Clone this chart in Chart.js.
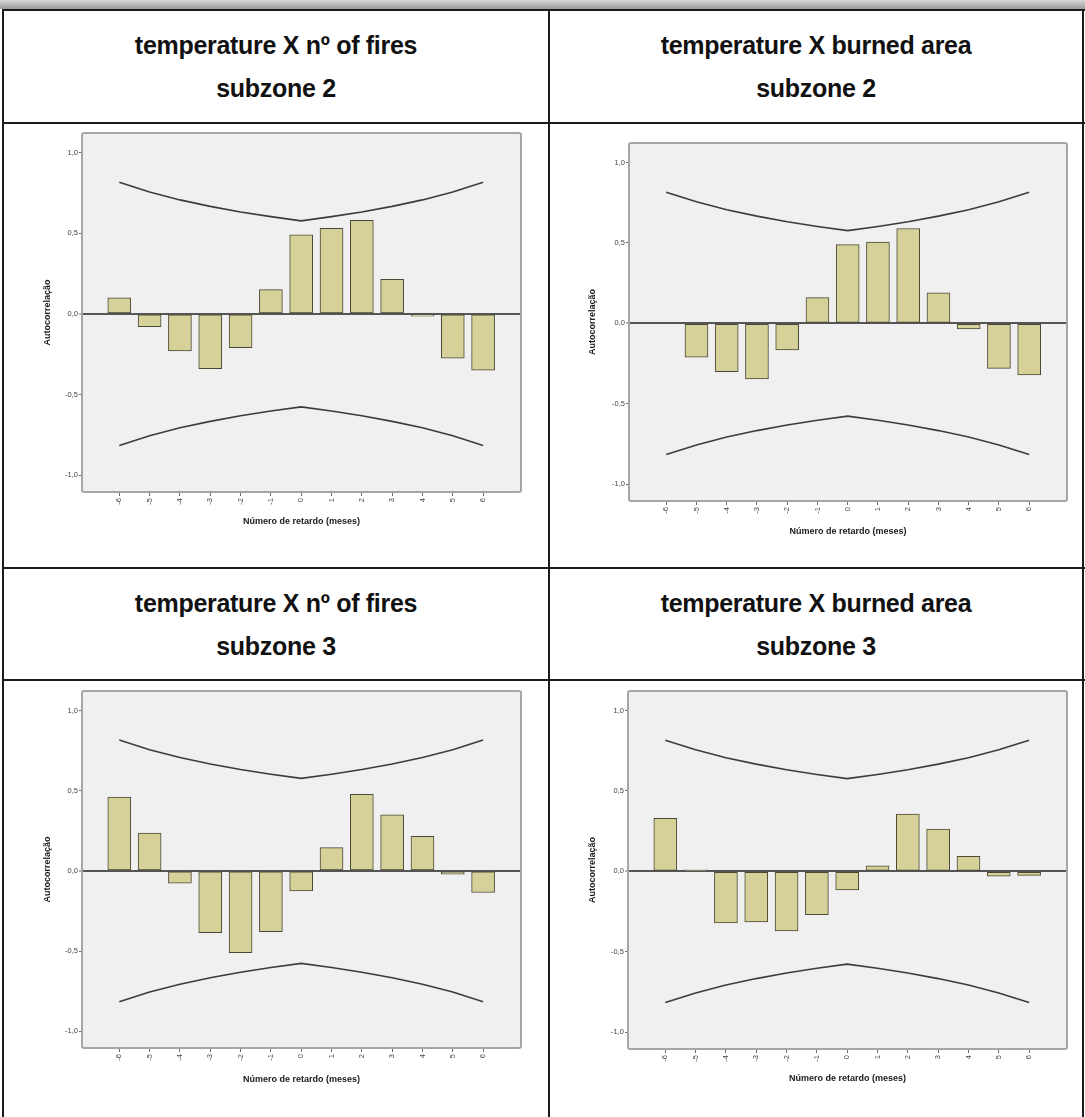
<!DOCTYPE html>
<html>
<head>
<meta charset="utf-8">
<script src="https://cdn.jsdelivr.net/npm/chart.js@4.4.1/dist/chart.umd.min.js"></script>
<style>
  html, body { margin: 0; padding: 0; background: #fff; }
  body { width: 1085px; height: 1117px; position: relative; overflow: hidden; font-family: "Liberation Sans", Arial, sans-serif; }
  .band { position: absolute; left: 0; top: 0; width: 1085px; height: 9px; background: linear-gradient(to bottom, #d8d8d8, #9a9a9a); }
  .hl { position: absolute; background: #1c1c1c; height: 2px; }
  .vl { position: absolute; background: #1c1c1c; width: 2px; }
  .head { position: absolute; text-align: center; font-weight: bold; font-size: 25px; line-height: 43px; color: #111; letter-spacing: -0.3px; }
  canvas { position: absolute; }
</style>
</head>
<body>
<div class="band"></div>
<div class="hl" style="left:2px; top:9px; width:1083px;"></div>
<div class="hl" style="left:2px; top:122px; width:1083px;"></div>
<div class="hl" style="left:2px; top:567px; width:1083px;"></div>
<div class="hl" style="left:2px; top:679px; width:1083px;"></div>
<div class="vl" style="left:2px; top:9px; height:1108px;"></div>
<div class="vl" style="left:548px; top:9px; height:1108px;"></div>
<div class="vl" style="left:1082px; top:9px; height:1108px;"></div>

<div class="head" style="left:4px; top:24px; width:544px;">temperature X nº of fires<br>subzone 2</div>
<div class="head" style="left:550px; top:24px; width:532px;">temperature X burned area<br>subzone 2</div>
<div class="head" style="left:4px; top:582px; width:544px;">temperature X nº of fires<br>subzone 3</div>
<div class="head" style="left:550px; top:582px; width:532px;">temperature X burned area<br>subzone 3</div>

<canvas id="c1" width="544" height="443" style="left:4px; top:124px;"></canvas>
<canvas id="c2" width="530" height="443" style="left:551px; top:124px;"></canvas>
<canvas id="c3" width="544" height="436" style="left:4px; top:681px;"></canvas>
<canvas id="c4" width="530" height="436" style="left:551px; top:681px;"></canvas>

<script>
// ---------- data ----------
const lags = [-6, -5, -4, -3, -2, -1, 0, 1, 2, 3, 4, 5, 6];
const xTickLabels = ['-6', '-5', '-4', '-3', '-2', '-1', '0', '1', '2', '3', '4', '5', '6'];
const yTickValues = [-1, -0.5, 0, 0.5, 1];
const yTickLabels = ['-1,0', '-0,5', '0,0', '0,5', '1,0'];

const firesSubzone2 = [0.10, -0.08, -0.23, -0.34, -0.21, 0.15, 0.49, 0.53, 0.58, 0.215, -0.015, -0.275, -0.35];
const areaSubzone2  = [0.00, -0.21, -0.30, -0.345, -0.165, 0.16, 0.49, 0.505, 0.59, 0.19, -0.035, -0.28, -0.32];
const firesSubzone3 = [0.46, 0.235, -0.077, -0.385, -0.51, -0.38, -0.125, 0.145, 0.477, 0.35, 0.215, -0.02, -0.135];
const areaSubzone3  = [0.33, 0.01, -0.32, -0.315, -0.37, -0.27, -0.115, 0.035, 0.357, 0.263, 0.093, -0.03, -0.025];

const upperLimit = [0.816, 0.756, 0.707, 0.667, 0.632, 0.603, 0.577, 0.603, 0.632, 0.667, 0.707, 0.756, 0.816];
const lowerLimit = [-0.816, -0.756, -0.707, -0.667, -0.632, -0.603, -0.577, -0.603, -0.632, -0.667, -0.707, -0.756, -0.816];

const yTitle = 'Autocorrelação';
const xTitle = 'Número de retardo (meses)';

// ---------- drawing ----------
const framePlugin = {
  id: 'frame',
  beforeDraw(chart) {
    const { ctx, chartArea: a } = chart;
    ctx.save();
    ctx.fillStyle = '#f0f0f0';
    ctx.fillRect(a.left, a.top, a.right - a.left, a.bottom - a.top);
    ctx.restore();
  },
  afterDraw(chart) {
    const { ctx, chartArea: a } = chart;
    ctx.save();
    ctx.strokeStyle = '#a6a6a6';
    ctx.lineWidth = 2;
    ctx.beginPath();
    if (ctx.roundRect) ctx.roundRect(a.left, a.top, a.right - a.left, a.bottom - a.top, 2);
    else ctx.rect(a.left, a.top, a.right - a.left, a.bottom - a.top);
    ctx.stroke();
    ctx.restore();
  }
};

function makeChart(id, values, box) {
  const canvas = document.getElementById(id);
  const W = canvas.width, H = canvas.height;
  const xAxisH = H - box.bottom;
  const lh = 9 * 1.2;
  new Chart(canvas, {
    type: 'bar',
    data: {
      datasets: [
        {
          type: 'line',
          data: lags.map((x, i) => ({ x, y: upperLimit[i] })),
          borderColor: '#3c3c3c', borderWidth: 1.6, pointRadius: 0, tension: 0, fill: false, order: 0
        },
        {
          type: 'line',
          data: lags.map((x, i) => ({ x, y: lowerLimit[i] })),
          borderColor: '#3c3c3c', borderWidth: 1.6, pointRadius: 0, tension: 0, fill: false, order: 0
        },
        {
          type: 'bar',
          data: lags.map((x, i) => ({ x, y: values[i] })),
          backgroundColor: '#d6d198',
          borderColor: '#4a4836',
          borderWidth: 1,
          borderSkipped: false,
          barThickness: 23,
          order: 1
        }
      ]
    },
    options: {
      responsive: false,
      animation: false,
      devicePixelRatio: 1,
      layout: { padding: { left: 0, top: box.top, right: W - box.right, bottom: 0 } },
      plugins: { legend: { display: false }, tooltip: { enabled: false } },
      scales: {
        x: {
          type: 'linear',
          min: -7.23, max: 7.25,
          offset: false,
          afterFit: s => { s.height = xAxisH; },
          afterBuildTicks: s => { s.ticks = lags.map(v => ({ value: v })); },
          border: { display: false },
          grid: { display: true, offset: false, drawOnChartArea: false, drawTicks: true, tickLength: 4, tickColor: '#6a6a6a', tickWidth: 1 },
          ticks: {
            autoSkip: false, minRotation: 90, maxRotation: 90, padding: 2,
            color: '#444', font: { family: 'Liberation Sans', size: 7.5 },
            callback: (v, i) => xTickLabels[i]
          },
          title: {
            display: true, text: xTitle, color: '#1a1a1a',
            font: { family: 'Liberation Sans', size: 9, weight: 'bold' },
            padding: { top: 0, bottom: xAxisH - box.xTitleGap - lh / 2 }
          }
        },
        y: {
          type: 'linear',
          min: -1.105, max: 1.122,
          afterFit: s => { s.width = box.left; },
          afterBuildTicks: s => { s.ticks = yTickValues.map(v => ({ value: v })); },
          border: { display: false },
          grid: {
            display: true, drawOnChartArea: true, drawTicks: true, tickLength: 3,
            tickColor: '#6a6a6a', tickWidth: 1,
            color: c => (c.tick && c.tick.value === 0) ? '#555555' : 'rgba(0,0,0,0)',
            lineWidth: c => (c.tick && c.tick.value === 0) ? 2 : 1
          },
          ticks: {
            padding: 1, color: '#444', font: { family: 'Liberation Sans', size: 7.5 },
            callback: (v, i) => yTickLabels[i]
          },
          title: {
            display: true, text: yTitle, color: '#1a1a1a',
            font: { family: 'Liberation Sans', size: 9, weight: 'bold' },
            padding: { top: box.yTitleX - lh / 2, bottom: 0 }
          }
        }
      }
    },
    plugins: [framePlugin]
  });
}

makeChart('c1', firesSubzone2, { left: 78, right: 517, top: 9,  bottom: 368, xTitleGap: 30, yTitleX: 44 });
makeChart('c2', areaSubzone2,  { left: 78, right: 516, top: 19, bottom: 377, xTitleGap: 31, yTitleX: 42 });
makeChart('c3', firesSubzone3, { left: 78, right: 517, top: 10, bottom: 367, xTitleGap: 32, yTitleX: 44 });
makeChart('c4', areaSubzone3,  { left: 77, right: 516, top: 10, bottom: 368, xTitleGap: 30, yTitleX: 42 });
</script>
</body>
</html>
